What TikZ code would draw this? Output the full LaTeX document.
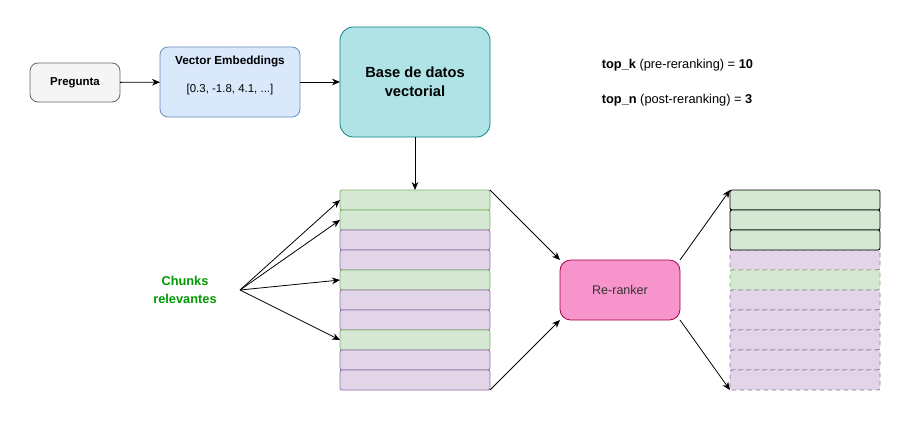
\documentclass[tikz,border=0pt]{standalone}
\usepackage{fontspec}
\setmainfont{Liberation Sans}
\usetikzlibrary{arrows.meta,positioning}
\definecolor{greyfill}{HTML}{F5F5F5}
\definecolor{greyline}{HTML}{666666}
\definecolor{bluefill}{HTML}{DAE8FC}
\definecolor{blueline}{HTML}{6C8EBF}
\definecolor{tealfill}{HTML}{B0E3E6}
\definecolor{tealline}{HTML}{0E8088}
\definecolor{greenfill}{HTML}{D5E8D4}
\definecolor{greenline}{HTML}{82B366}
\definecolor{purplefill}{HTML}{E1D5E7}
\definecolor{purpleline}{HTML}{9673A6}
\definecolor{pinkfill}{HTML}{F694CB}
\definecolor{pinkline}{HTML}{A50040}
\definecolor{chunkgreen}{HTML}{009900}
\tikzset{
	defaultstyle/.style={
		>={Stealth[length=6pt,width=5pt]},
		x=0.75pt, y=-0.75pt,
		line width=0.6pt}}

\begin{document}
\begin{tikzpicture}[defaultstyle,
	every text node part/.style={align=center},
	mybox/.style={draw, rounded corners=6pt, inner sep=0pt, outer sep=0pt},
	myrow/.style={draw, rounded corners=1.5pt, inner sep=0pt, outer sep=0pt,
		minimum width=112.5pt, minimum height=15pt},
	good/.style={myrow, fill=greenfill, draw=greenline},
	bad/.style={myrow, fill=purplefill, draw=purpleline},
	kept/.style={myrow, fill=greenfill, draw=black},
	]
	\useasboundingbox (0,0) rectangle (910,421);

	% pipeline
	\node[mybox, fill=greyfill, draw=greyline, minimum width=67.5pt, minimum height=29.25pt,
		font=\bfseries\fontsize{8.6}{10}\selectfont] (preg) at (75,82.5) {Pregunta};
	\node[mybox, fill=bluefill, draw=blueline, minimum width=105pt, minimum height=52.5pt] (emb) at (230,82) {};
	\node[font=\bfseries\fontsize{8.8}{10}\selectfont] (embt) at (230,61) {Vector Embeddings};
	\node[font=\fontsize{8.6}{10}\selectfont] (embv) at (230,90) {[0.3, -1.8, 4.1, ...]};
	\node[mybox, rounded corners=10pt, fill=tealfill, draw=tealline, minimum width=112.5pt, minimum height=82.5pt,
		font=\bfseries\fontsize{11}{14.5}\selectfont] (db) at (415,82) {Base de datos\\vectorial};

	\draw[->] (preg) -- (emb);
	\draw[->] (emb) -- (db);

	% chunks before re-ranking
	\foreach \i/\s in {0/good,1/good,2/bad,3/bad,4/good,5/bad,6/bad,7/good,8/bad,9/bad}
		\node[\s] (l\i) at (415,200+20*\i) {};

	% chunks after re-ranking
	\foreach \i/\s in {3/bad,4/good,5/bad,6/bad,7/bad,8/bad,9/bad}
		\node[\s, dashed] (r\i) at (805,200+20*\i) {};
	\foreach \i in {0,1,2}
		\node[kept] (r\i) at (805,200+20*\i) {};

	\draw[->] (db) -- (l0.north);

	% relevant chunks
	\node[font=\bfseries\fontsize{9.6}{13}\selectfont, text=chunkgreen] (chunks) at (185,290) {Chunks\\relevantes};
	\coordinate (hub) at (240,290);
	\draw[->] (hub) -- (l0.west);
	\draw[->] (hub) -- (l1.west);
	\draw[->] (hub) -- (l4.west);
	\draw[->] (hub) -- (l7.west);

	% re-ranker
	\node[mybox, rounded corners=8pt, fill=pinkfill, draw=pinkline, minimum width=90pt, minimum height=45pt,
		font=\fontsize{9.4}{11}\selectfont, text=black!80] (rr) at (620,290) {Re-ranker};

	\draw[->] (l0.north east) -- (rr.north west);
	\draw[->] (l9.south east) -- (rr.south west);
	\draw[->] (rr.north east) -- (r0.north west);
	\draw[->] (rr.south east) -- (r9.south west);

	% parameters
	\node[anchor=west, font=\fontsize{9.6}{11}\selectfont] (topk) at (597,65) {\textbf{top\_k} (pre-reranking) = \textbf{10}};
	\node[anchor=west, font=\fontsize{9.6}{11}\selectfont] (topn) at (597,100) {\textbf{top\_n} (post-reranking) = \textbf{3}};

\end{tikzpicture}
\end{document}
